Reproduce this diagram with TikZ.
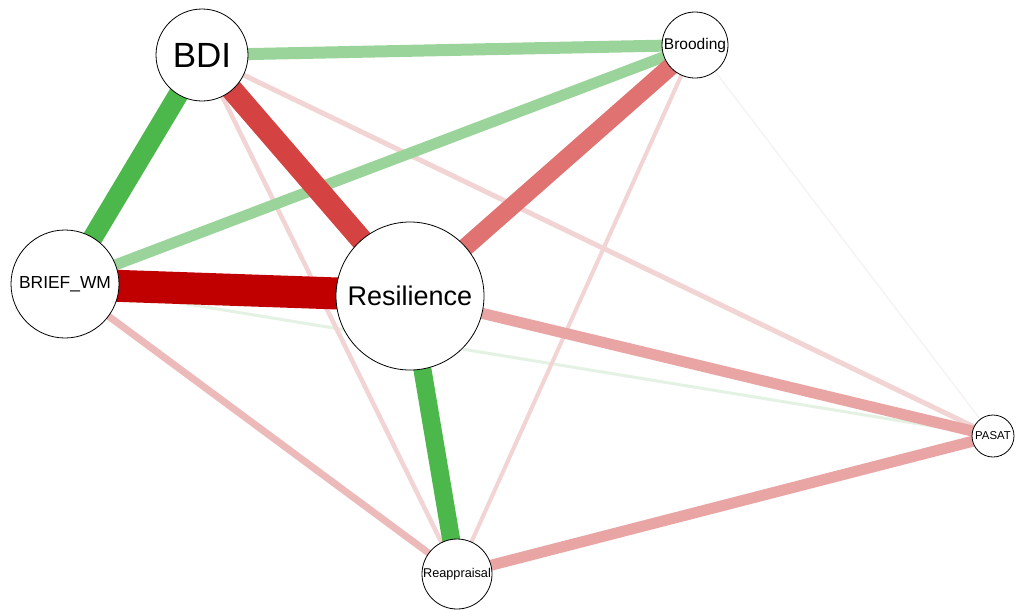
\documentclass[tikz,border=0pt]{standalone}
\usepackage{fontspec}
\setmainfont{Liberation Sans}
\usetikzlibrary{backgrounds}
\definecolor{posA}{RGB}{76,184,76}
\definecolor{posB}{RGB}{154,212,154}
\definecolor{posC}{RGB}{228,242,228}
\definecolor{negA}{RGB}{192,0,0}
\definecolor{negB}{RGB}{212,66,66}
\definecolor{negC}{RGB}{224,114,114}
\definecolor{negD}{RGB}{233,164,164}
\definecolor{negE}{RGB}{237,186,186}
\definecolor{negF}{RGB}{242,212,212}
\definecolor{negG}{RGB}{247,243,243}
\tikzset{
  var/.style={circle, draw=black, line width=0.8pt, fill=white, inner sep=0pt, text=black},
  edge/.style={line cap=butt},
}
\begin{document}
\begin{tikzpicture}[x=1pt, y=-1pt]
\useasboundingbox (0,0) rectangle (1016,611);
% variables
\node[var, minimum size=92pt, font=\fontsize{35}{35}\selectfont] (bdi) at (202,55) {BDI};
\node[var, minimum size=66pt, font=\fontsize{15.5}{15.5}\selectfont] (brood) at (695,45) {Brooding};
\node[var, minimum size=108pt, font=\fontsize{17.4}{17.4}\selectfont] (wm) at (65,284) {BRIEF\_WM};
\node[var, minimum size=148pt, font=\fontsize{27}{27}\selectfont] (res) at (410,296) {Resilience};
\node[var, minimum size=42pt, font=\fontsize{11.4}{11.4}\selectfont] (pasat) at (993,436) {PASAT};
\node[var, minimum size=70pt, font=\fontsize{12.7}{12.7}\selectfont] (reap) at (457,574) {Reappraisal};
% partial associations, weakest first
\begin{scope}[on background layer]
\fill[white] (0,0) rectangle (1016,611);
\draw[edge, negG, line width=1.5pt] (brood.center) -- (pasat.center);
\draw[edge, posC, line width=3pt] (wm.center) -- (pasat.center);
\draw[edge, negF, line width=4pt] (brood.center) -- (reap.center);
\draw[edge, negF, line width=4.5pt] (bdi.center) -- (reap.center);
\draw[edge, negF, line width=5pt] (bdi.center) -- (pasat.center);
\draw[edge, negE, line width=7pt] (wm.center) -- (reap.center);
\draw[edge, posB, line width=11pt] (brood.center) -- (wm.center);
\draw[edge, negD, line width=11pt] (res.center) -- (pasat.center);
\draw[edge, negD, line width=11pt] (reap.center) -- (pasat.center);
\draw[edge, posB, line width=12pt] (bdi.center) -- (brood.center);
\draw[edge, negC, line width=18pt] (brood.center) -- (res.center);
\draw[edge, posA, line width=18pt] (res.center) -- (reap.center);
\draw[edge, posA, line width=20pt] (bdi.center) -- (wm.center);
\draw[edge, negB, line width=22pt] (bdi.center) -- (res.center);
\draw[edge, negA, line width=32pt] (wm.center) -- (res.center);
\end{scope}
\end{tikzpicture}
\end{document}
